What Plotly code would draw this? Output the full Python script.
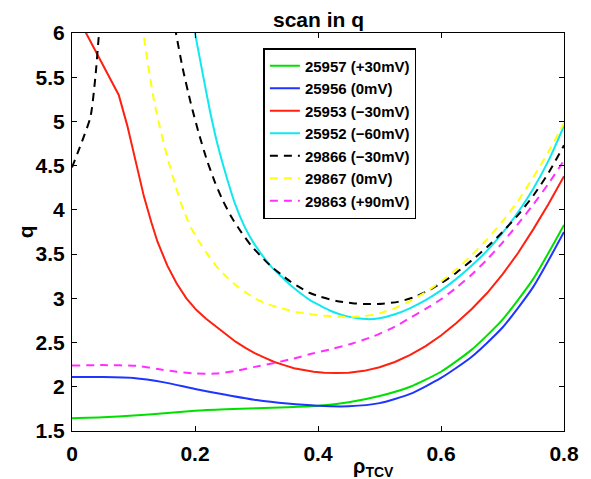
import plotly.graph_objects as go

# ---------------- data ----------------
x_25957 = [0, 0.05, 0.1, 0.15, 0.2, 0.25, 0.3, 0.35, 0.4, 0.45, 0.5, 0.55, 0.6, 0.65, 0.7, 0.75, 0.8]
q_25957 = [1.645, 1.655, 1.675, 1.70, 1.728, 1.745, 1.757, 1.768, 1.785, 1.825, 1.895, 2.00, 2.17, 2.42, 2.76, 3.22, 3.83]

x_25956 = [0, 0.05, 0.1, 0.15, 0.2, 0.25, 0.3, 0.35, 0.4, 0.45, 0.5, 0.55, 0.6, 0.65, 0.7, 0.75, 0.8]
q_25956 = [2.11, 2.11, 2.10, 2.05, 1.975, 1.91, 1.85, 1.81, 1.785, 1.78, 1.815, 1.92, 2.10, 2.34, 2.67, 3.13, 3.75]

x_25953 = [0, 0.076, 0.09, 0.103, 0.117, 0.129, 0.139, 0.155, 0.17, 0.186, 0.202, 0.218, 0.234,
           0.25, 0.266, 0.282, 0.297, 0.313, 0.329, 0.345, 0.361, 0.377, 0.393, 0.41, 0.43, 0.45,
           0.475, 0.5, 0.525, 0.55, 0.575, 0.6, 0.625, 0.65, 0.675, 0.7, 0.725, 0.75, 0.775, 0.8]
q_25953 = [6.30, 5.30, 4.95, 4.57, 4.15, 3.86, 3.64, 3.37, 3.17, 3.00, 2.87, 2.77, 2.68,
           2.59, 2.51, 2.44, 2.38, 2.33, 2.28, 2.245, 2.21, 2.19, 2.17, 2.16, 2.155, 2.16,
           2.18, 2.22, 2.28, 2.36, 2.46, 2.58, 2.72, 2.88, 3.06, 3.27, 3.51, 3.78, 4.07, 4.38]

x_25952 = [0.195, 0.2, 0.212, 0.224, 0.237, 0.251, 0.265, 0.28, 0.295, 0.31, 0.325, 0.34, 0.355,
           0.371, 0.387, 0.403, 0.42, 0.44, 0.46, 0.48, 0.5, 0.525, 0.55, 0.575, 0.6, 0.625,
           0.65, 0.675, 0.7, 0.725, 0.75, 0.775, 0.8]
q_25952 = [6.18, 6.0, 5.56, 5.13, 4.73, 4.38, 4.07, 3.82, 3.63, 3.48, 3.35, 3.25, 3.15,
           3.06, 2.98, 2.92, 2.86, 2.81, 2.78, 2.765, 2.775, 2.82, 2.89, 2.98, 3.09, 3.22,
           3.37, 3.54, 3.74, 3.97, 4.24, 4.56, 4.95]

x_29866 = [0, 0.015, 0.03, 0.038, 0.044, 0.05, None,
           0.163, 0.169, 0.18, 0.193, 0.206, 0.219, 0.232, 0.245, 0.26, 0.276, 0.292, 0.308,
           0.324, 0.34, 0.355, 0.371, 0.387, 0.403, 0.43, 0.456, 0.48, 0.505, 0.53, 0.555,
           0.58, 0.6, 0.625, 0.65, 0.675, 0.7, 0.725, 0.75, 0.775, 0.8]
q_29866 = [4.48, 4.75, 5.05, 5.5, 6.0, 6.4, None,
           6.22, 6.0, 5.6, 5.21, 4.87, 4.57, 4.32, 4.11, 3.91, 3.74, 3.59, 3.47,
           3.36, 3.27, 3.19, 3.12, 3.06, 3.02, 2.97, 2.945, 2.935, 2.94, 2.96, 3.01,
           3.09, 3.17, 3.29, 3.43, 3.58, 3.75, 3.94, 4.16, 4.42, 4.73]

x_29867 = [0.11, 0.116, 0.125, 0.134, 0.145, 0.156, 0.168, 0.18, 0.192, 0.205, 0.22, 0.235,
           0.25, 0.266, 0.282, 0.297, 0.313, 0.329, 0.345, 0.361, 0.38, 0.4, 0.425, 0.45,
           0.475, 0.5, 0.525, 0.55, 0.575, 0.6, 0.625, 0.65, 0.675, 0.7, 0.725, 0.75, 0.775, 0.8]
q_29867 = [6.26, 6.0, 5.58, 5.21, 4.87, 4.57, 4.28, 4.02, 3.82, 3.66, 3.50, 3.36,
           3.25, 3.15, 3.07, 3.00, 2.95, 2.91, 2.88, 2.85, 2.83, 2.81, 2.795, 2.79,
           2.80, 2.83, 2.89, 2.97, 3.07, 3.19, 3.33, 3.49, 3.67, 3.87, 4.10, 4.37, 4.66, 4.98]

x_29863 = [0, 0.05, 0.107, 0.14, 0.17, 0.202, 0.234, 0.266, 0.297, 0.329, 0.361, 0.393, 0.424,
           0.456, 0.49, 0.525, 0.55, 0.575, 0.6, 0.625, 0.65, 0.675, 0.7, 0.725, 0.75, 0.775, 0.8]
q_29863 = [2.24, 2.245, 2.235, 2.20, 2.17, 2.15, 2.15, 2.18, 2.225, 2.27, 2.32, 2.38, 2.43,
           2.49, 2.57, 2.68, 2.78, 2.88, 2.99, 3.12, 3.27, 3.44, 3.63, 3.84, 4.06, 4.30, 4.56]

x_ticks = [0, 0.2, 0.4, 0.6, 0.8]
x_ticklabels = ["0", "0.2", "0.4", "0.6", "0.8"]
y_ticks = [1.5, 2, 2.5, 3, 3.5, 4, 4.5, 5, 5.5, 6]
y_ticklabels = ["1.5", "2", "2.5", "3", "3.5", "4", "4.5", "5", "5.5", "6"]

series = [
    ("25957 (+30mV)", x_25957, q_25957, "#00e000", "solid", "spline"),
    ("25956 (0mV)", x_25956, q_25956, "#1f35ff", "solid", "spline"),
    ("25953 (\u221230mV)", x_25953, q_25953, "#ff2010", "solid", "linear"),
    ("25952 (\u221260mV)", x_25952, q_25952, "#10e8f0", "solid", "spline"),
    ("29866 (\u221230mV)", x_29866, q_29866, "#000000", "8px,6px", "spline"),
    ("29867 (0mV)", x_29867, q_29867, "#ffff10", "8px,6px", "spline"),
    ("29863 (+90mV)", x_29863, q_29863, "#ff30ff", "8px,6px", "spline"),
]

FONT = "Liberation Sans, Arial, Helvetica, sans-serif"

fig = go.Figure()
for name, xs, ys, col, dash, shape in series:
    fig.add_trace(go.Scatter(
        x=xs, y=ys, name=name, mode="lines",
        line=dict(color=col, width=2, dash=dash, shape=shape, smoothing=0.6),
        connectgaps=False,
    ))

axis_common = dict(
    showline=True, linecolor="black", linewidth=1, mirror="ticks",
    ticks="inside", ticklen=5, tickcolor="black", tickwidth=1,
    showgrid=False, zeroline=False,
    tickfont=dict(family=FONT, size=21, color="black", weight="bold"),
)

fig.update_layout(
    width=591, height=479,
    margin=dict(l=72, r=15, t=33, b=48),
    paper_bgcolor="white", plot_bgcolor="white",
    showlegend=True,
    legend=dict(
        x=0.389, y=0.962, xanchor="left", yanchor="top",
        bgcolor="white", bordercolor="black", borderwidth=1.5,
        font=dict(family=FONT, size=15, color="black", weight="bold"),
        tracegroupgap=0,
    ),
    xaxis=dict(range=[0, 0.8], tickvals=x_ticks, ticktext=x_ticklabels,
               ticklabelstandoff=4, **axis_common),
    yaxis=dict(range=[1.5, 6], tickvals=y_ticks, ticktext=y_ticklabels,
               ticklabelstandoff=2, **axis_common),
    annotations=[
        dict(text="scan in q", xref="paper", yref="paper", x=0.502, y=1.0,
             xanchor="center", yanchor="bottom", yshift=0, showarrow=False,
             font=dict(family=FONT, size=21, color="black", weight="bold")),
        dict(text="\u03c1<sub>TCV</sub>", xref="x", yref="paper", x=0.49, y=0.0,
             xanchor="center", yanchor="top", yshift=-22, showarrow=False,
             font=dict(family=FONT, size=20, color="black", weight="bold")),
        dict(text="q", xref="paper", yref="paper", x=-0.095, y=0.5,
             xanchor="center", yanchor="middle", textangle=-90, showarrow=False,
             font=dict(family=FONT, size=21, color="black", weight="bold")),
    ],
)

fig.write_html("out.html")
